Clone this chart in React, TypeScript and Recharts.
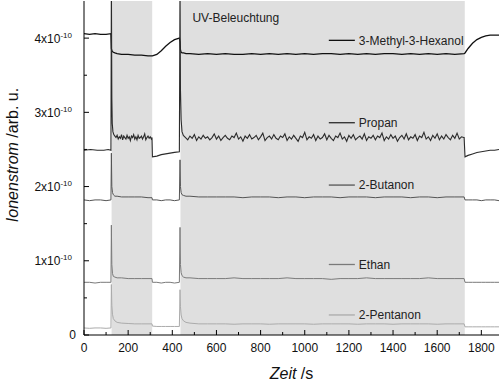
import { LineChart, Line, XAxis, YAxis, ReferenceArea, ReferenceLine } from 'recharts';

const FONT = '"Liberation Sans", Arial, Helvetica, sans-serif';

// Zeitachse (s) fuer die ruhigen Signale
const zeitGrob = [
  0, 25, 50, 75, 100, 122, 124, 126, 129, 133,
  140, 150, 170, 200, 230, 260, 290, 308, 310, 330,
  350, 370, 390, 410, 432, 435, 437, 440, 444, 451,
  462, 480, 520, 560, 600, 640, 680, 720, 760, 800,
  840, 880, 920, 960, 1000, 1040, 1080, 1120, 1160, 1200,
  1240, 1280, 1320, 1360, 1400, 1440, 1480, 1520, 1560, 1600,
  1640, 1680, 1722, 1726, 1740, 1760, 1780, 1800, 1820, 1840,
  1860, 1880,
];

// Werte in Einheiten von 1e-10
const hexanolWerte = [
  4.06, 4.05, 4.06, 4.05, 4.05, 4.06, 3.86, 3.83, 3.82, 3.81,
  3.80, 3.79, 3.78, 3.78, 3.77, 3.77, 3.76, 3.76, 3.76, 3.78,
  3.83, 3.89, 3.94, 3.98, 4.00, 3.95, 3.84, 3.81, 3.80, 3.80,
  3.79, 3.79, 3.78, 3.79, 3.78, 3.79, 3.78, 3.78, 3.79, 3.78,
  3.79, 3.78, 3.79, 3.78, 3.79, 3.78, 3.79, 3.79, 3.78, 3.79,
  3.78, 3.79, 3.78, 3.79, 3.79, 3.78, 3.79, 3.78, 3.79, 3.78,
  3.79, 3.78, 3.79, 3.80, 3.86, 3.93, 3.98, 4.01, 4.03, 4.04,
  4.04, 4.04,
];

const butanonWerte = [
  1.82, 1.81, 1.82, 1.82, 1.81, 1.82, 2.45, 2.00, 1.92, 1.89,
  1.87, 1.87, 1.86, 1.86, 1.86, 1.86, 1.85, 1.85, 1.82, 1.82,
  1.81, 1.82, 1.82, 1.81, 1.82, 2.36, 2.00, 1.92, 1.89, 1.88,
  1.87, 1.87, 1.86, 1.86, 1.86, 1.86, 1.86, 1.85, 1.86, 1.86,
  1.86, 1.85, 1.86, 1.86, 1.85, 1.86, 1.86, 1.86, 1.85, 1.86,
  1.86, 1.86, 1.85, 1.86, 1.86, 1.86, 1.85, 1.86, 1.86, 1.85,
  1.86, 1.86, 1.86, 1.82, 1.82, 1.82, 1.82, 1.81, 1.82, 1.82,
  1.82, 1.81,
];

const ethanWerte = [
  0.71, 0.71, 0.70, 0.71, 0.71, 0.71, 1.48, 0.95, 0.83, 0.79,
  0.78, 0.77, 0.77, 0.76, 0.76, 0.76, 0.76, 0.76, 0.71, 0.71,
  0.70, 0.71, 0.71, 0.70, 0.71, 1.45, 0.95, 0.84, 0.80, 0.78,
  0.77, 0.77, 0.76, 0.76, 0.76, 0.76, 0.77, 0.76, 0.76, 0.76,
  0.76, 0.76, 0.77, 0.76, 0.76, 0.76, 0.76, 0.75, 0.76, 0.76,
  0.76, 0.77, 0.76, 0.76, 0.76, 0.76, 0.76, 0.76, 0.77, 0.76,
  0.76, 0.76, 0.76, 0.71, 0.71, 0.71, 0.71, 0.71, 0.71, 0.71,
  0.71, 0.71,
];

const pentanonWerte = [
  0.095, 0.09, 0.095, 0.095, 0.09, 0.095, 0.68, 0.40, 0.28, 0.22,
  0.19, 0.17, 0.16, 0.155, 0.15, 0.15, 0.15, 0.15, 0.12, 0.115,
  0.115, 0.115, 0.115, 0.115, 0.115, 0.61, 0.38, 0.27, 0.22, 0.19,
  0.17, 0.16, 0.15, 0.15, 0.15, 0.15, 0.145, 0.15, 0.15, 0.15,
  0.145, 0.15, 0.15, 0.15, 0.15, 0.145, 0.15, 0.15, 0.15, 0.15,
  0.145, 0.15, 0.15, 0.15, 0.145, 0.15, 0.15, 0.15, 0.15, 0.145,
  0.15, 0.15, 0.15, 0.11, 0.11, 0.11, 0.11, 0.11, 0.11, 0.11,
  0.11, 0.11,
];

// Propan ist verrauscht, daher dichter abgetastet
const propanZeit = [
  0, 30, 60, 90, 110, 122, 124, 126, 128, 131,
  135, 140, 145, 150, 155, 160, 165, 170, 175, 180,
  185, 190, 195, 200, 205, 210, 215, 220, 225, 230,
  235, 240, 245, 250, 255, 260, 265, 270, 275, 280,
  285, 290, 295, 300, 305,
  308, 310, 330, 350, 370, 390, 410, 432, 435, 437, 440, 444, 450,
  460, 470, 480, 490, 500, 510, 520, 530, 540, 550,
  560, 570, 580, 590, 600, 610, 620, 630, 640, 650,
  660, 670, 680, 690, 700, 710, 720, 730, 740, 750,
  760, 770, 780, 790, 800, 810, 820, 830, 840, 850,
  860, 870, 880, 890, 900, 910, 920, 930, 940, 950,
  960, 970, 980, 990, 1000, 1010, 1020, 1030, 1040, 1050,
  1060, 1070, 1080, 1090, 1100, 1110, 1120, 1130, 1140, 1150,
  1160, 1170, 1180, 1190, 1200, 1210, 1220, 1230, 1240, 1250,
  1260, 1270, 1280, 1290, 1300, 1310, 1320, 1330, 1340, 1350,
  1360, 1370, 1380, 1390, 1400, 1410, 1420, 1430, 1440, 1450,
  1460, 1470, 1480, 1490, 1500, 1510, 1520, 1530, 1540, 1550,
  1560, 1570, 1580, 1590, 1600, 1610, 1620, 1630, 1640, 1650,
  1660, 1670, 1680, 1690, 1700, 1710, 1720,
  1722, 1726, 1740, 1760, 1780, 1800, 1820, 1840, 1860, 1880,
];

const propanWerte = [
  2.49, 2.50, 2.49, 2.49, 2.50, 2.49, 4.80, 3.20, 2.85, 2.74,
  2.70, 2.68, 2.66, 2.69, 2.64, 2.67, 2.65, 2.70, 2.63, 2.68,
  2.66, 2.64, 2.69, 2.65, 2.67, 2.62, 2.68, 2.66, 2.70, 2.64,
  2.67, 2.63, 2.69, 2.65, 2.66, 2.68, 2.64, 2.67, 2.71, 2.63,
  2.66, 2.68, 2.65, 2.67, 2.64,
  2.66, 2.40, 2.41, 2.43, 2.44, 2.45, 2.46, 2.47, 4.80, 3.30, 2.90, 2.74, 2.69,
  2.66, 2.63, 2.68, 2.65, 2.70, 2.62, 2.67, 2.64, 2.69, 2.65,
  2.67, 2.63, 2.66, 2.71, 2.64, 2.68, 2.62, 2.66, 2.69, 2.65,
  2.63, 2.68, 2.66, 2.72, 2.64, 2.67, 2.61, 2.68, 2.65, 2.70,
  2.64, 2.66, 2.69, 2.63, 2.67, 2.72, 2.62, 2.66, 2.68, 2.64,
  2.70, 2.65, 2.63, 2.68, 2.66, 2.71, 2.62, 2.67, 2.64, 2.69,
  2.65, 2.61, 2.68, 2.66, 2.73, 2.63, 2.67, 2.65, 2.70, 2.62,
  2.68, 2.64, 2.66, 2.71, 2.63, 2.69, 2.65, 2.62, 2.68, 2.66,
  2.72, 2.64, 2.67, 2.61, 2.69, 2.65, 2.70, 2.63, 2.66, 2.68,
  2.64, 2.71, 2.62, 2.67, 2.65, 2.69, 2.63, 2.68, 2.66, 2.72,
  2.62, 2.67, 2.64, 2.70, 2.65, 2.68, 2.61, 2.66, 2.69, 2.64,
  2.71, 2.63, 2.67, 2.65, 2.70, 2.62, 2.68, 2.66, 2.73, 2.64,
  2.67, 2.62, 2.69, 2.65, 2.71, 2.63, 2.68, 2.64, 2.70, 2.66,
  2.63, 2.69, 2.65, 2.72, 2.64, 2.67, 2.66,
  2.66, 2.40, 2.42, 2.44, 2.46, 2.47, 2.48, 2.49, 2.49, 2.50,
];

// UV-Beleuchtung (grau hinterlegt)
const uvStart = [125, 437];
const uvEnde = [309, 1725];

const xTicks = [0, 100, 200, 300, 400, 500, 600, 700, 800, 900, 1000, 1100, 1200, 1300, 1400, 1500, 1600, 1700, 1800];
const yTicks = [0, 0.5, 1, 1.5, 2, 2.5, 3, 3.5, 4];

const serien = [
  { name: '3-Methyl-3-Hexanol', zeit: zeitGrob, werte: hexanolWerte, farbe: '#111111', breite: 1.3, labelY: 3.97 },
  { name: 'Propan', zeit: propanZeit, werte: propanWerte, farbe: '#2b2b2b', breite: 1.1, labelY: 2.86 },
  { name: '2-Butanon', zeit: zeitGrob, werte: butanonWerte, farbe: '#555555', breite: 1, labelY: 2.02 },
  { name: 'Ethan', zeit: zeitGrob, werte: ethanWerte, farbe: '#7a7a7a', breite: 1, labelY: 0.95 },
  { name: '2-Pentanon', zeit: zeitGrob, werte: pentanonWerte, farbe: '#ababab', breite: 1, labelY: 0.27 },
];
const labelX1 = 1109;
const labelX2 = 1227;

function BottomTick({ x, y, payload }: any) {
  const major = payload.value % 200 === 0;
  return (
    <g>
      <line x1={x} y1={y} x2={x} y2={y - (major ? 5 : 3)} stroke="#000" />
      {major && (
        <text x={x} y={y + 17} textAnchor="middle" fontSize={12} fontFamily={FONT} fill="#111">
          {payload.value}
        </text>
      )}
    </g>
  );
}

function TopTick({ x, y, payload }: any) {
  const major = payload.value % 200 === 0;
  return <line x1={x} y1={y} x2={x} y2={y + (major ? 5 : 3)} stroke="#000" />;
}

function LeftTick({ x, y, payload }: any) {
  const v = payload.value;
  const major = Number.isInteger(v);
  return (
    <g>
      <line x1={x} y1={y} x2={x + (major ? 5 : 3)} y2={y} stroke="#000" />
      {major &&
        (v === 0 ? (
          <text x={x - 8} y={y + 4} textAnchor="end" fontSize={12} fontFamily={FONT} fill="#111">
            0
          </text>
        ) : (
          <text x={x - 12} y={y + 4.5} textAnchor="end" fontSize={12} fontFamily={FONT} fill="#111">
            {v}x10
            <tspan fontSize={8} dy={-5}>
              -10
            </tspan>
          </text>
        ))}
    </g>
  );
}

function RightTick({ x, y, payload }: any) {
  const major = Number.isInteger(payload.value);
  return <line x1={x} y1={y} x2={x - (major ? 5 : 3)} y2={y} stroke="#000" />;
}

export default function App() {
  return (
    <div style={{ position: 'absolute', left: 0, top: 0, width: 500, height: 381, background: '#fff' }}>
      <LineChart width={500} height={381} margin={{ top: 1, right: 1, left: 0, bottom: 0 }}>
        <XAxis
          dataKey="t"
          type="number"
          domain={[0, 1880]}
          ticks={xTicks}
          interval={0}
          allowDataOverflow
          height={46}
          tickSize={0}
          tickMargin={0}
          tickLine={false}
          tick={<BottomTick />}
          axisLine={{ stroke: '#000' }}
        />
        <XAxis
          xAxisId="top"
          orientation="top"
          dataKey="t"
          type="number"
          domain={[0, 1880]}
          ticks={xTicks}
          interval={0}
          allowDataOverflow
          height={0}
          tickSize={0}
          tickMargin={0}
          tickLine={false}
          tick={<TopTick />}
          axisLine={{ stroke: '#000' }}
        />
        <YAxis
          type="number"
          domain={[0, 4.5]}
          ticks={yTicks}
          interval={0}
          allowDataOverflow
          width={84}
          tickSize={0}
          tickMargin={0}
          tickLine={false}
          tick={<LeftTick />}
          axisLine={{ stroke: '#000' }}
        />
        <YAxis
          yAxisId="right"
          orientation="right"
          type="number"
          domain={[0, 4.5]}
          ticks={yTicks}
          interval={0}
          allowDataOverflow
          width={0}
          tickSize={0}
          tickMargin={0}
          tickLine={false}
          tick={<RightTick />}
          axisLine={{ stroke: '#000' }}
        />
        {uvStart.map((s, i) => (
          <ReferenceArea
            key={`uv-${i}`}
            x1={s}
            x2={uvEnde[i]}
            fill="#dfdfdf"
            fillOpacity={1}
            stroke="none"
            label={
              i === 1
                ? { value: 'UV-Beleuchtung', position: 'insideTopLeft', offset: 12, fontSize: 12, fill: '#222', fontFamily: FONT }
                : undefined
            }
          />
        ))}
        {serien.map((s) => (
          <Line
            key={s.name}
            data={s.zeit.map((t, i) => ({ t, v: s.werte[i] }))}
            dataKey="v"
            type="linear"
            stroke={s.farbe}
            strokeWidth={s.breite}
            dot={false}
            activeDot={false}
            isAnimationActive={false}
          />
        ))}
        {serien.map((s) => (
          <ReferenceLine
            key={`lbl-${s.name}`}
            segment={[
              { x: labelX1, y: s.labelY },
              { x: labelX2, y: s.labelY },
            ]}
            stroke={s.farbe}
            strokeWidth={1.3}
            label={{ value: s.name, position: 'right', offset: 4, fontSize: 12, fill: '#222', fontFamily: FONT }}
          />
        ))}
        <text x={12} y={155} transform="rotate(-90 12 155)" textAnchor="middle" dominantBaseline="central" fontSize={16} fontFamily={FONT} fill="#111">
          <tspan fontStyle="italic">Ionenstrom</tspan> /arb. u.
        </text>
        <text x={291.5} y={379} textAnchor="middle" fontSize={16} fontFamily={FONT} fill="#111">
          <tspan fontStyle="italic">Zeit</tspan> /s
        </text>
      </LineChart>
    </div>
  );
}
